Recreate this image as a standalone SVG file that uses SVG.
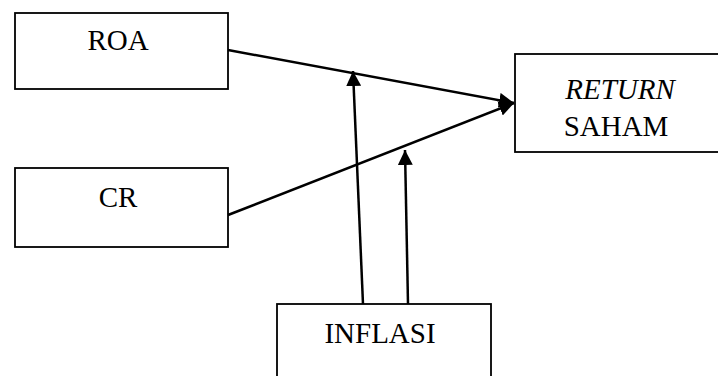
<svg xmlns="http://www.w3.org/2000/svg" width="718" height="376" viewBox="0 0 718 376">
  <style>
    .box { fill: #ffffff; stroke: #000000; stroke-width: 1.8; }
    text { font-family: 'Liberation Serif', 'Times New Roman', serif; font-size: 29px; fill: #000000; text-anchor: middle; }
    .it { font-style: italic; }
    .edge { stroke: #000000; stroke-width: 2.5; fill: none; marker-end: url(#head); }
  </style>
  <defs>
    <!-- solid triangular arrowhead, sized in user units -->
    <marker id="head" markerUnits="userSpaceOnUse" markerWidth="15" markerHeight="15" refX="15" refY="7.5" orient="auto" viewBox="0 0 15 15">
      <path d="M0,0 L15,7.5 L0,15 Z" fill="#000000"/>
    </marker>
  </defs>
  <rect width="718" height="376" fill="#ffffff"/>

  <g id="roa">
    <rect class="box" x="15" y="13" width="213" height="76"/>
    <text x="118" y="50">ROA</text>
  </g>

  <g id="cr">
    <rect class="box" x="15" y="168" width="213" height="79"/>
    <text x="118" y="207">CR</text>
  </g>

  <g id="return-saham">
    <rect class="box" x="515" y="54" width="210" height="98"/>
    <text class="it" x="620" y="99">RETURN</text>
    <text x="616" y="136">SAHAM</text>
  </g>

  <g id="inflasi">
    <rect class="box" x="277" y="304" width="214" height="80"/>
    <text x="380" y="343">INFLASI</text>
  </g>

  <g id="connectors">
    <line class="edge" x1="228" y1="50" x2="514" y2="103"/>
    <line class="edge" x1="228" y1="215" x2="514" y2="103"/>
    <line class="edge" x1="363" y1="304" x2="353" y2="71"/>
    <line class="edge" x1="408" y1="304" x2="405" y2="150"/>
  </g>
</svg>
